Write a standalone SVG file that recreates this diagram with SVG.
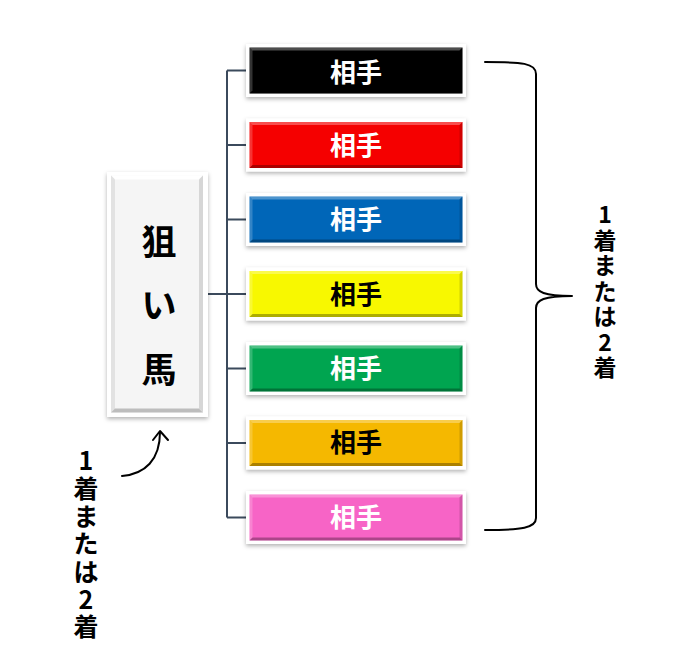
<svg xmlns="http://www.w3.org/2000/svg" xmlns:xlink="http://www.w3.org/1999/xlink" width="694" height="658" viewBox="0 0 694 658">
<style>
  .frame { fill: #ffffff; filter: url(#sh); }
  .lbl { font-family: "Noto Sans CJK JP", "Noto Sans", sans-serif; font-weight: bold; font-size: 26px; text-anchor: middle; dominant-baseline: central; }
  .w { fill: #ffffff; }
  .k { fill: #000000; }
  .conn { stroke: #3b4a5c; stroke-width: 2; fill: none; }
  .vt { font-family: "Noto Sans CJK JP", "Noto Sans", sans-serif; font-weight: bold; text-anchor: middle; dominant-baseline: central; fill: #000000; }
  .main { font-family: "Noto Sans CJK JP", "Noto Sans", sans-serif; font-weight: bold; font-size: 35px; text-anchor: middle; dominant-baseline: central; fill: #000000; }
  .ink { stroke: #000000; stroke-width: 2; fill: none; stroke-linecap: round; stroke-linejoin: round; }
</style>
<defs>
  <filter id="sh" x="-20%" y="-20%" width="140%" height="150%">
    <feDropShadow dx="0" dy="2" stdDeviation="2" flood-color="#000000" flood-opacity="0.3"/>
  </filter>
  <g id="bevel">
    <polygon points="3.5,3.5 216.5,3.5 213.5,6.5 6.5,6.5" fill="#ffffff" fill-opacity="0.3"/>
    <polygon points="3.5,3.5 6.5,6.5 6.5,46.5 3.5,49.5" fill="#ffffff" fill-opacity="0.2"/>
    <polygon points="3.5,49.5 6.5,46.5 213.5,46.5 216.5,49.5" fill="#000000" fill-opacity="0.3"/>
    <polygon points="216.5,3.5 216.5,49.5 213.5,46.5 213.5,6.5" fill="#000000" fill-opacity="0.15"/>
  </g>
</defs>

<g id="connectors">
  <path class="conn" d="M227,70.5 V517.5 M227,70.5 H246 M227,145 H246 M227,219.5 H246 M227,294 H246 M227,368.5 H246 M227,443 H246 M227,517.5 H246 M208,294 H227"/>
</g>

<g id="target">
  <rect class="frame" x="107" y="172" width="101" height="245"/>
  <rect x="111" y="175.5" width="92" height="237" fill="#f5f5f5"/>
  <polygon points="111,175.5 203,175.5 199,179.5 115,179.5" fill="#ffffff"/>
  <polygon points="111,175.5 115,179.5 115,408.5 111,412.5" fill="#e2e2e2"/>
  <polygon points="111,412.5 115,408.5 199,408.5 203,412.5" fill="#bdbdbd"/>
  <polygon points="203,175.5 203,412.5 199,408.5 199,179.5" fill="#d6d6d6"/>
  <text class="main" x="159" y="239">狙</text>
  <text class="main" x="159" y="302">い</text>
  <text class="main" x="159" y="367">馬</text>
</g>

<g id="r1" transform="translate(246,44)">
  <rect class="frame" width="220" height="53"/>
  <rect x="3.5" y="3.5" width="213" height="46" fill="#000000"/>
  <use xlink:href="#bevel"/>
  <text class="lbl w" x="110" y="26">相手</text>
</g>
<g id="r2" transform="translate(246,118.5)">
  <rect class="frame" width="220" height="53"/>
  <rect x="3.5" y="3.5" width="213" height="46" fill="#f50000"/>
  <use xlink:href="#bevel"/>
  <text class="lbl w" x="110" y="25">相手</text>
</g>
<g id="r3" transform="translate(246,193)">
  <rect class="frame" width="220" height="53"/>
  <rect x="3.5" y="3.5" width="213" height="46" fill="#0066b8"/>
  <use xlink:href="#bevel"/>
  <text class="lbl w" x="110" y="24">相手</text>
</g>
<g id="r4" transform="translate(246,267.5)">
  <rect class="frame" width="220" height="53"/>
  <rect x="3.5" y="3.5" width="213" height="46" fill="#f8f800"/>
  <use xlink:href="#bevel"/>
  <text class="lbl k" x="110" y="25">相手</text>
</g>
<g id="r5" transform="translate(246,342)">
  <rect class="frame" width="220" height="53"/>
  <rect x="3.5" y="3.5" width="213" height="46" fill="#00a550"/>
  <use xlink:href="#bevel"/>
  <text class="lbl w" x="110" y="24.5">相手</text>
</g>
<g id="r6" transform="translate(246,416.5)">
  <rect class="frame" width="220" height="53"/>
  <rect x="3.5" y="3.5" width="213" height="46" fill="#f5b800"/>
  <use xlink:href="#bevel"/>
  <text class="lbl k" x="110" y="24">相手</text>
</g>
<g id="r7" transform="translate(246,491)">
  <rect class="frame" width="220" height="53"/>
  <rect x="3.5" y="3.5" width="213" height="46" fill="#f764c6"/>
  <use xlink:href="#bevel"/>
  <text class="lbl w" x="110" y="24.5">相手</text>
</g>

<g id="arrow">
  <path class="ink" d="M122,476 C145,474 160,460 160,432"/>
  <path class="ink" d="M153,440 L160,431 L168,440"/>
</g>

<g id="label-left">
  <text class="vt" font-size="25"><tspan x="86" y="459">1</tspan><tspan x="86" y="487">着</tspan><tspan x="86" y="514.5">ま</tspan><tspan x="86" y="542">た</tspan><tspan x="86" y="570">は</tspan><tspan x="86" y="597.5">2</tspan><tspan x="86" y="625">着</tspan></text>
</g>

<g id="brace">
  <path class="ink" d="M485,62 C522,62 536,63 536,74 L536,284 C536,292 544,296 572,296 M572,296 C544,296 536,300 536,308 L536,518 C536,528 522,530 485,530"/>
</g>

<g id="label-right">
  <text class="vt" font-size="23"><tspan x="605" y="213">1</tspan><tspan x="605" y="238.5">着</tspan><tspan x="605" y="264">ま</tspan><tspan x="605" y="289.5">た</tspan><tspan x="605" y="315">は</tspan><tspan x="605" y="340.5">2</tspan><tspan x="605" y="366">着</tspan></text>
</g>
</svg>
